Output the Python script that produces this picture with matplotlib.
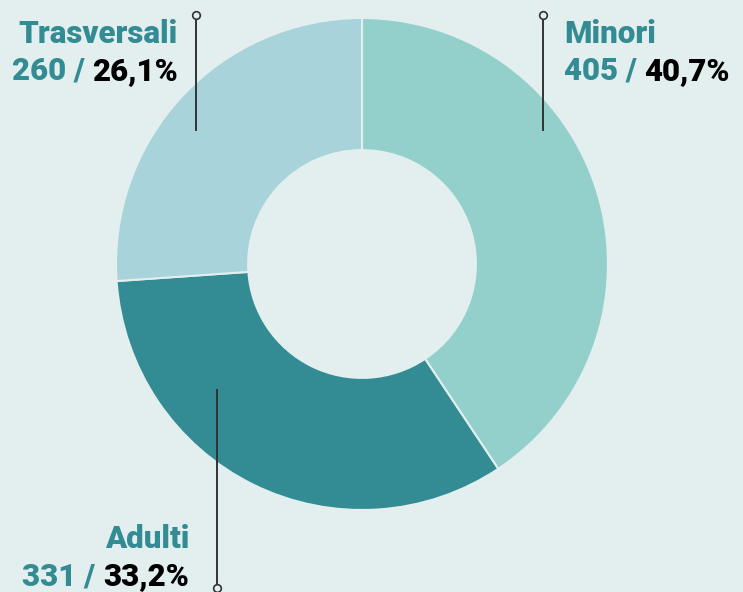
import matplotlib.pyplot as plt

# data
labels = ["Minori", "Adulti", "Trasversali"]
counts = [405, 331, 260]
pcts = ["40,7%", "33,2%", "26,1%"]
colors = ["#93d0cc", "#338b93", "#a8d3da"]

bg = "#e2efee"
teal = "#338b93"
plt.rcParams["font.family"] = ["Roboto", "DejaVu Sans"]

fig = plt.figure(figsize=(7.43, 5.92), dpi=100)
fig.patch.set_facecolor(bg)
ax = fig.add_axes([0, 0, 1, 1])
ax.set_facecolor(bg)

# donut
ax.pie(counts, colors=colors, startangle=90, counterclock=False, radius=1,
       wedgeprops=dict(width=0.537, edgecolor=bg, linewidth=1.5))

# map so that 1 unit = 246 px, center at (362, 264) px from top-left
s = 246.0
ax.set_xlim(-362 / s, (743 - 362) / s)
ax.set_ylim(-(592 - 264) / s, 264 / s)
ax.set_aspect("equal")
ax.set_axis_off()

# leader lines: (x, y_start, y_end with circle)
leaders = {
    "Minori": (0.736, 0.545, 1.012),
    "Adulti": (-0.589, -0.512, -1.317),
    "Trasversali": (-0.675, 0.545, 1.012),
}
for name, (lx, y0, y1) in leaders.items():
    ax.plot([lx, lx], [y0, y1], color="#333333", lw=1.4, zorder=3)
    ax.plot(lx, y1, marker="o", ms=5.5, mfc=bg, mec="#333333", mew=1.2, zorder=4)

# label positions: (x, y line1, y line2, align)
label_pos = {
    "Minori": (0.821, 0.898, 0.748, "left"),
    "Adulti": (-0.703, -1.154, -1.305, "right"),
    "Trasversali": (-0.748, 0.898, 0.748, "right"),
}
fs = 22.5
fw = "black"
fig.canvas.draw()
r = fig.canvas.get_renderer()
inv = ax.transData.inverted()
for name, cnt, pct in zip(labels, counts, pcts):
    x, ya, yb, al = label_pos[name]
    ax.text(x, ya, name, ha=al, va="baseline", color=teal, fontsize=fs, fontweight=fw)
    if al == "right":
        t = ax.text(x, yb, pct, ha="right", va="baseline", color="black",
                    fontsize=fs, fontweight=fw)
        bb = t.get_window_extent(r)
        x0 = inv.transform((bb.x0, 0))[0]
        ax.text(x0, yb, f"{cnt} / ", ha="right", va="baseline", color=teal,
                fontsize=fs, fontweight=fw)
    else:
        t = ax.text(x, yb, f"{cnt} / ", ha="left", va="baseline", color=teal,
                    fontsize=fs, fontweight=fw)
        bb = t.get_window_extent(r)
        x1 = inv.transform((bb.x1, 0))[0]
        ax.text(x1, yb, pct, ha="left", va="baseline", color="black",
                fontsize=fs, fontweight=fw)

fig.savefig("out.png", dpi=100, facecolor=bg)
